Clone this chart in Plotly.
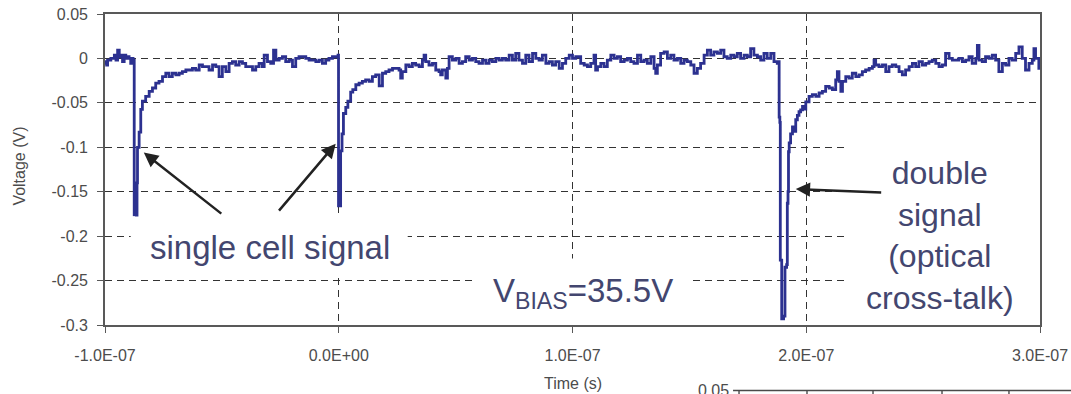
import numpy as np
import plotly.graph_objects as go

# ---- oscilloscope trace, time in ns, amplitude in mV ----
t_base_a = [-100.0, -99.7, -99.3, -98.9, -97.5, -96.0, -95.3, -94.6, -93.9, -93.2,
            -92.5, -91.8, -91.1, -90.4, -89.7, -89.0, -88.5, -88.0]
v_base_a = [-3.7, -5.6, -7.4, -1.9, 0.0, 3.7, -1.9, 9.3, 1.9, 3.7,
            -3.7, 3.7, 0.0, 1.9, 0.0, -5.6, 0.0, -1.9]

t_pulse_1 = [-87.7, -87.5, -86.6, -86.3, -86.1, -85.4, -84.7]
v_pulse_1 = [-1.9, -176.0, -178.0, -140.0, -100.0, -83.0, -57.4]

t_tail_1 = [-84.0, -82.6, -81.1, -79.7, -78.3, -76.9, -75.4, -74.0, -72.6, -71.2,
            -69.7, -68.3, -66.9, -65.4, -64.0, -62.6, -61.2, -59.7, -58.3, -56.9,
            -55.5, -54.0, -52.6, -51.2, -49.8, -48.3, -46.9, -45.5, -44.1, -42.6,
            -41.2, -39.8, -38.4, -36.9, -35.5, -34.1, -32.7, -31.9, -30.5, -29.1,
            -27.9, -26.9, -25.5, -24.1, -22.7, -21.2, -19.8, -18.4, -17.0, -15.5,
            -14.1, -12.7, -11.3, -9.8, -8.4, -7.0, -5.6, -4.2, -2.7, -1.3, -0.3]
v_tail_1 = [-48.1, -42.6, -37.0, -33.3, -27.8, -25.9, -20.4, -16.7, -20.4, -16.7,
            -18.5, -16.7, -14.8, -13.0, -13.0, -11.1, -13.0, -7.4, -9.3, -9.3,
            -13.0, -7.4, -9.3, -20.4, -9.3, -14.8, -5.6, -3.7, -7.4, -3.7,
            -5.6, -9.3, -9.3, -13.0, -9.3, -5.6, -9.3, 3.7, -3.7, -5.6,
            9.3, -1.9, 0.0, 1.9, -3.7, -1.9, -9.3, 0.0, 1.9, 1.9,
            0.0, -1.9, -1.9, -3.7, -1.9, -5.6, -1.9, 0.0, 1.9, 1.9, 3.7]

t_pulse_2 = [-0.1, 0.6, 0.8, 1.4, 2.0, 3.0, 3.9, 5.1, 6.0]
v_pulse_2 = [-166.0, -166.0, -104.0, -85.0, -62.0, -55.0, -48.0, -38.0, -35.0]

t_tail_2 = [7.3, 8.7, 10.1, 11.5, 13.0, 14.4, 15.8, 17.3, 18.7, 20.1,
            21.5, 23.0, 24.4, 25.8, 26.5, 27.2, 28.7, 30.1, 31.5, 32.9,
            34.4, 35.8, 36.5, 37.2, 38.6, 40.1, 41.5, 42.9, 43.6, 44.3,
            45.8, 46.5, 47.2, 48.6, 50.1, 51.5, 52.9, 54.3, 55.8, 57.2,
            58.6, 60.0, 61.5, 62.9, 64.3, 65.7, 67.2, 68.6, 70.0, 71.4,
            72.9, 74.3, 75.7, 77.1, 78.6, 80.0, 81.4, 82.9, 84.3, 85.7,
            87.1, 88.6, 90.0, 91.4, 92.8, 94.3, 95.7, 97.1, 98.6, 100.0, 101.4]
v_tail_2 = [-29.6, -27.8, -25.9, -24.1, -25.9, -20.4, -18.5, -31.0, -16.7, -14.8,
            -13.0, -11.1, -11.1, -13.0, -22.2, -14.8, -7.4, -9.3, -5.6, -7.4,
            -9.3, -1.9, 3.7, -3.7, -7.4, -5.6, -13.0, -14.8, -18.5, -13.0,
            -22.2, -11.1, 1.9, -1.9, 0.0, -5.6, -3.7, 1.9, -1.9, 0.0,
            -3.7, -5.6, -1.9, -5.6, -1.9, -3.7, 0.0, -1.9, 0.0, -1.9,
            3.7, -1.9, 5.6, -1.9, -5.6, 3.7, -3.7, 5.6, 0.0, -1.9,
            3.7, -5.6, -3.7, -7.4, -3.7, -11.1, -5.6, 0.0, 3.7, 0.0, 1.9]

t_base_b = [103.5, 105.0, 106.4, 107.8, 109.2, 109.9, 110.7, 112.1, 113.5, 114.9,
            116.4, 117.8, 119.2, 120.6, 122.1, 123.5, 124.9, 126.3, 127.8, 129.2,
            130.6, 132.0, 133.5, 134.9, 135.6, 136.3, 137.7, 139.2, 140.6, 142.0,
            143.4, 144.9, 146.3, 147.7, 149.1, 150.6, 152.0, 153.4, 154.8, 156.3,
            157.7, 159.1, 160.5, 162.0, 163.4, 164.8, 166.2, 167.7, 169.1, 170.5,
            171.9, 173.4, 174.8, 176.2, 177.6, 179.1, 180.5, 181.9, 183.3, 184.8,
            186.2, 187.6]
v_base_b = [-5.6, -7.4, -9.3, -5.6, 3.7, -13.0, -9.3, -5.6, -9.3, -1.9,
            3.7, 0.0, 1.9, -3.7, -1.9, 0.0, -3.7, -5.6, 3.7, -3.7,
            -1.9, -5.6, 1.9, -11.1, -16.7, -7.4, 5.6, 7.4, 0.0, 3.7,
            -1.9, 0.0, -5.6, -1.9, -3.7, -7.4, -16.7, -11.1, -5.6, 3.7,
            9.3, 3.7, 7.4, 5.6, 9.3, 1.9, 0.0, 3.7, 1.9, 5.6,
            0.0, 3.7, 1.9, 11.1, 3.7, 1.9, -1.9, 5.6, 0.0, 5.6,
            -3.7, -5.6]

t_pulse_3 = [188.2, 188.4, 188.7, 188.9, 189.5, 190.3, 190.9, 191.6, 191.9, 192.2,
             192.4, 192.7, 193.3, 194.1, 194.8, 195.5, 196.2, 196.9, 197.6, 198.4,
             199.1, 199.8]
v_pulse_3 = [-3.7, -66.0, -72.0, -227.0, -293.0, -290.0, -235.0, -232.0, -163.0, -150.0,
             -105.0, -95.0, -85.0, -77.0, -82.0, -69.0, -64.0, -60.0, -58.0, -54.0,
             -57.0, -49.0]

t_tail_3 = [201.2, 202.6, 204.1, 205.5, 206.9, 208.3, 209.8, 211.2, 212.6, 213.3,
            214.0, 214.8, 215.5, 216.9, 218.3, 219.7, 221.2, 222.6, 224.0, 225.4,
            226.9, 228.3, 229.0, 229.7, 231.1, 232.6, 234.0, 235.4, 236.8, 238.3,
            239.7, 241.1, 242.5, 244.0, 245.4, 246.8, 248.2, 249.7, 251.1, 252.5,
            253.9, 255.4, 256.8, 258.2, 259.6, 261.1, 262.5, 263.9, 265.3, 266.8,
            268.2, 269.6, 271.0, 272.5, 273.2, 273.9, 275.3, 276.7, 278.2, 279.6,
            281.0, 282.4, 283.9, 285.3, 286.7, 288.1, 289.6, 291.0, 292.4, 293.8,
            295.3, 296.7, 297.4, 298.1, 299.5, 300.2]
v_tail_3 = [-42.6, -40.7, -42.6, -38.9, -37.0, -31.5, -33.3, -35.2, -24.1, -14.8,
            -25.9, -37.0, -25.9, -20.4, -22.2, -16.7, -20.4, -18.5, -14.8, -13.0,
            -11.1, -9.3, -1.9, -7.4, -9.3, -7.4, -14.8, -9.3, -7.4, -9.3,
            -14.8, -18.5, -13.0, -9.3, -5.6, -9.3, -3.7, -7.4, -5.6, -3.7,
            -1.9, -5.6, -9.3, -7.4, 5.6, 0.0, -1.9, -1.9, 0.0, -3.7,
            -1.9, 1.9, -5.6, 0.0, 14.8, -1.9, -3.7, 1.9, 0.0, 3.7,
            -1.9, -14.8, -5.6, -7.4, 0.0, -1.9, 5.6, 13.0, 0.0, -13.0,
            -5.6, -1.9, 11.1, 0.0, -11.1, -5.6]

segments = [(t_base_a, v_base_a), (t_pulse_1, v_pulse_1), (t_tail_1, v_tail_1),
            (t_pulse_2, v_pulse_2), (t_tail_2, v_tail_2), (t_base_b, v_base_b),
            (t_pulse_3, v_pulse_3), (t_tail_3, v_tail_3)]
for ts, vs in segments:
    assert len(ts) == len(vs)

time_s = np.concatenate([ts for ts, _ in segments]) * 1e-9
volt_v = np.concatenate([vs for _, vs in segments]) * 1e-3

# ---- axes ----
x_tick_vals = [-1e-7, 0.0, 1e-7, 2e-7, 3e-7]
x_tick_text = ["-1.0E-07", "0.0E+00", "1.0E-07", "2.0E-07", "3.0E-07"]
y_tick_vals = [0.05, 0.0, -0.05, -0.1, -0.15, -0.2, -0.25, -0.3]
y_tick_text = ["0.05", "0", "-0.05", "-0.1", "-0.15", "-0.2", "-0.25", "-0.3"]

FONT = "Liberation Sans, Arial, sans-serif"
TICK_GREY = "#4c4c4c"
AXIS_GREY = "#595959"
GRID = "#333333"
TRACE = "#2c3190"
NOTE = "#43466f"
ARROW = "#222222"

fig = go.Figure()
fig.add_trace(go.Scatter(
    x=time_s, y=volt_v, mode="lines",
    line=dict(color=TRACE, width=2.8, shape="hv"),
    showlegend=False, hoverinfo="skip",
))

axis_common = dict(
    automargin=False,
    showgrid=True, gridcolor=GRID, gridwidth=1.2, griddash="7px,5px",
    showline=True, linecolor=AXIS_GREY, linewidth=1.7, mirror=True,
    ticks="outside", ticklen=6, tickcolor=AXIS_GREY, tickwidth=1.4,
    zeroline=False, tickfont=dict(family=FONT, size=16, color=TICK_GREY),
)
fig.update_xaxes(range=[-1e-7, 3e-7], tickmode="array", tickvals=x_tick_vals,
                 ticktext=x_tick_text, ticklabelstandoff=9, **axis_common)
fig.update_yaxes(range=[-0.3, 0.05], tickmode="array", tickvals=y_tick_vals,
                 ticktext=y_tick_text, ticklabelstandoff=6, **axis_common)

# white text panels sitting over the grid
panels = [
    dict(x0=-89.0e-9, x1=29.5e-9, y0=-0.242, y1=-0.178),
    dict(x0=57.8e-9, x1=150.6e-9, y0=-0.2984, y1=-0.2252),
    dict(x0=217.8e-9, x1=300.8e-9, y0=-0.2984, y1=-0.0946),
]
shapes = []
for p in panels:
    shapes.append(dict(type="rect", xref="x", yref="y", layer="above",
                       fillcolor="white", line=dict(width=0), **p))

# top edge of the next panel below
edge = dict(color="#4a4a4a", width=1.4)
shapes.append(dict(type="line", xref="paper", yref="paper", x0=0.6717, x1=1.04,
                   y0=-0.2106, y1=-0.2106, line=edge))
shapes.append(dict(type="line", xref="paper", yref="paper", x0=0.6781, x1=0.6781,
                   y0=-0.2106, y1=-0.26, line=edge))
for px in [0.7508, 0.8214, 0.8952, 0.9668]:
    shapes.append(dict(type="line", xref="paper", yref="paper", x0=px, x1=px,
                       y0=-0.2106, y1=-0.235, line=edge))

big = dict(family=FONT, size=33, color=NOTE)
annotations = [
    dict(x=-29.5e-9, y=-0.2128, xref="x", yref="y", text="single cell signal",
         showarrow=False, font=big, xanchor="center", yanchor="middle"),
    dict(x=104.6e-9, y=-0.2643, xref="x", yref="y", text="V<sub>BIAS</sub>=35.5V",
         showarrow=False, font=big, xanchor="center", yanchor="middle"),
    dict(x=257.1e-9, y=-0.199, xref="x", yref="y",
         text="double<br>signal<br>(optical<br>cross-talk)",
         showarrow=False, font=dict(family=FONT, size=32, color=NOTE),
         xanchor="center", yanchor="middle", align="center"),
    # axis titles
    dict(x=0.5, y=-0.1865, xref="paper", yref="paper", text="Time (s)",
         showarrow=False, font=dict(family=FONT, size=16, color=TICK_GREY),
         xanchor="center", yanchor="middle"),
    dict(x=-0.0914, y=0.511, xref="paper", yref="paper", text="Voltage (V)",
         textangle=-90, showarrow=False,
         font=dict(family=FONT, size=16, color=TICK_GREY),
         xanchor="center", yanchor="middle"),
    dict(x=0.6695, y=-0.2122, xref="paper", yref="paper", text="0.05",
         showarrow=False, font=dict(family=FONT, size=16, color=TICK_GREY),
         xanchor="right", yanchor="middle"),
]

# pointer arrows (head at x,y ; tail at ax,ay)
arrows = [
    (-83.4e-9, -0.106, -49.6e-9, -0.176),
    (-1.3e-9, -0.096, -26.1e-9, -0.173),
    (195.5e-9, -0.147, 232.7e-9, -0.151),
]
for hx, hy, tx, ty in arrows:
    annotations.append(dict(
        x=hx, y=hy, ax=tx, ay=ty, xref="x", yref="y", axref="x", ayref="y",
        text="", showarrow=True, arrowhead=2, arrowsize=1.15, arrowwidth=2.5,
        arrowcolor=ARROW, standoff=0, startstandoff=0,
    ))

fig.update_layout(
    width=1071, height=394, autosize=False,
    margin=dict(l=105, r=31, t=14, b=69, pad=0, autoexpand=False),
    paper_bgcolor="white", plot_bgcolor="white",
    shapes=shapes, annotations=annotations,
    font=dict(family=FONT),
)

fig.write_html("out.html")
